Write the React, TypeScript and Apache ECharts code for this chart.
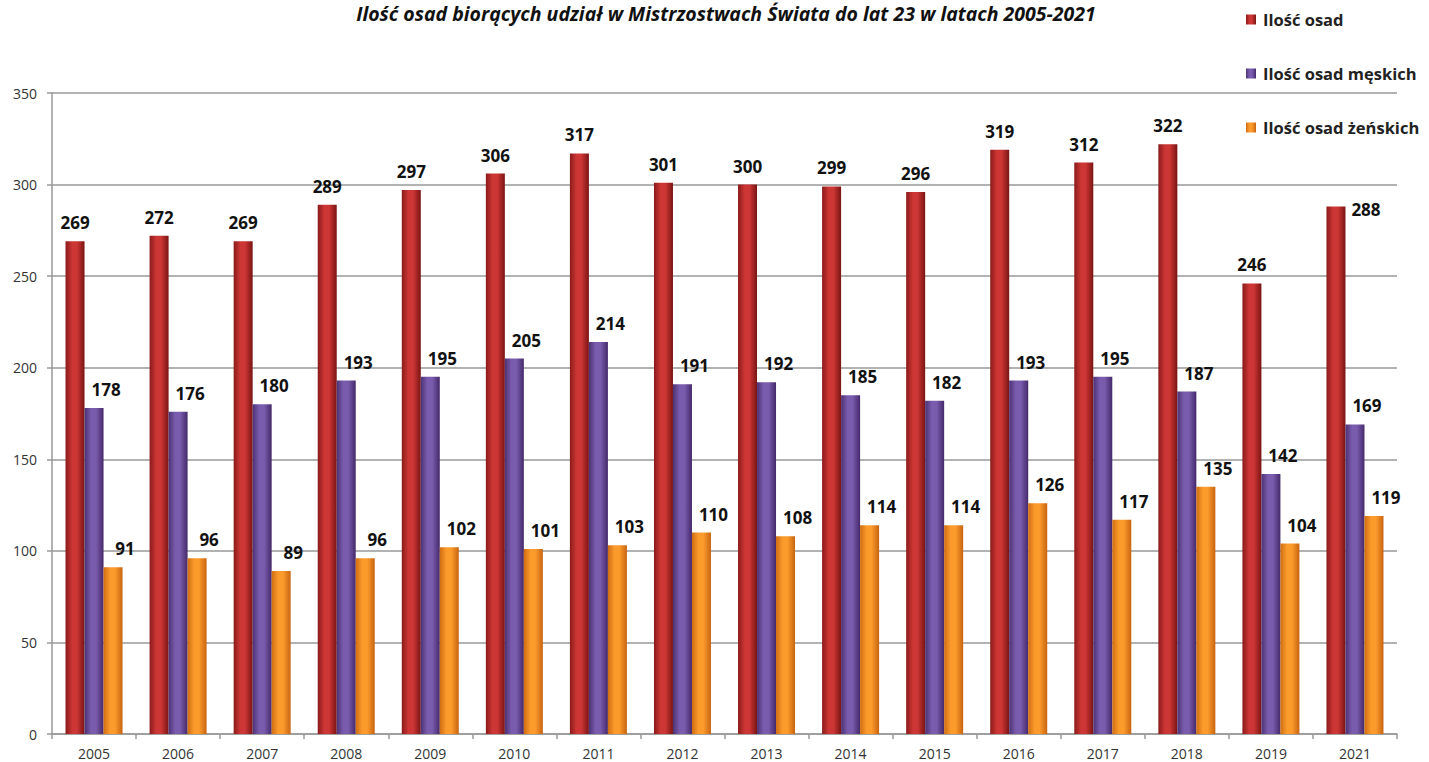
import React, { useEffect, useRef } from "react";
import * as echarts from "echarts";

const years = ["2005", "2006", "2007", "2008", "2009", "2010", "2011", "2012", "2013", "2014", "2015", "2016", "2017", "2018", "2019", "2021"];
const total = [269, 272, 269, 289, 297, 306, 317, 301, 300, 299, 296, 319, 312, 322, 246, 288];
const men = [178, 176, 180, 193, 195, 205, 214, 191, 192, 185, 182, 193, 195, 187, 142, 169];
const women = [91, 96, 89, 96, 102, 101, 103, 110, 108, 114, 114, 126, 117, 135, 104, 119];
const seriesNames = ["Ilość osad", "Ilość osad męskich", "Ilość osad żeńskich"];
const yTicks = { min: 0, max: 350, interval: 50 };

const FONT = "'Open Sans', 'Noto Sans', sans-serif";

function grad(edge: string, mid: string, edge2: string) {
  return new echarts.graphic.LinearGradient(0, 0, 1, 0, [
    { offset: 0, color: edge },
    { offset: 0.35, color: mid },
    { offset: 0.6, color: mid },
    { offset: 1, color: edge2 },
  ]);
}

export default function App() {
  const ref = useRef<HTMLDivElement>(null);
  useEffect(() => {
    if (!ref.current) return;
    const chart = echarts.init(ref.current, undefined, { renderer: "svg" });
    const labelStyle = {
      show: true,
      position: "top" as const,
      distance: 10,
      fontFamily: FONT,
      fontWeight: "bold" as const,
      fontSize: 17,
      color: "#111",
    };
    const totalData = total.map((v, i) =>
      i === total.length - 1
        ? { value: v, label: { offset: [30, 21] } }
        : v
    );
    chart.setOption({
      animation: false,
      backgroundColor: "#ffffff",
      title: {
        text: "Ilość osad biorących udział w Mistrzostwach Świata do lat 23 w latach 2005-2021",
        left: 726,
        textAlign: "center",
        top: 3,
        padding: 0,
        textStyle: {
          fontFamily: FONT,
          fontStyle: "italic",
          fontWeight: "bold",
          fontSize: 19.5,
          lineHeight: 20,
          color: "#111",
        },
      },
      legend: {
        orient: "vertical",
        left: 1246,
        top: 11,
        padding: 0,
        itemGap: 37,
        itemWidth: 10,
        itemHeight: 10,
        icon: "rect",
        textStyle: { fontFamily: FONT, fontWeight: "bold", fontSize: 16.5, color: "#222", padding: [0, 0, 0, 2] },
        data: seriesNames,
      },
      grid: { left: 52, right: 32, top: 93, bottom: 28, containLabel: false },
      xAxis: {
        type: "category",
        data: years,
        boundaryGap: true,
        axisLine: { lineStyle: { color: "#999", width: 1.5 } },
        axisTick: { show: true, length: 5, inside: false, lineStyle: { color: "#999", width: 1.5 } },
        axisLabel: { fontFamily: FONT, fontSize: 14, lineHeight: 14, color: "#333", margin: 12 },
      },
      yAxis: {
        type: "value",
        min: yTicks.min,
        max: yTicks.max,
        interval: yTicks.interval,
        axisLine: { show: true, lineStyle: { color: "#999", width: 1.5 } },
        axisTick: { show: true, length: 5, lineStyle: { color: "#999", width: 1.5 } },
        axisLabel: { fontFamily: FONT, fontSize: 14, color: "#333", margin: 15 },
        splitLine: { lineStyle: { color: "#999", width: 1.5 } },
      },
      series: [
        {
          name: seriesNames[0],
          type: "bar",
          data: totalData,
          barWidth: 19,
          barGap: "0%",
          itemStyle: { color: grad("#8a1a1a", "#cc3634", "#7a1414") },
          label: { ...labelStyle },
        },
        {
          name: seriesNames[1],
          type: "bar",
          data: men,
          barWidth: 19,
          barGap: "0%",
          itemStyle: { color: grad("#4c3274", "#7a5cae", "#45296a") },
          label: { ...labelStyle, offset: [12, 0] },
        },
        {
          name: seriesNames[2],
          type: "bar",
          data: women,
          barWidth: 19,
          barGap: "0%",
          itemStyle: { color: grad("#d06d12", "#fb9b2c", "#c86410") },
          label: { ...labelStyle, offset: [12, 0] },
        },
      ],
    });
    return () => chart.dispose();
  }, []);
  return (
    <div
      ref={ref}
      style={{ position: "fixed", left: 0, top: 0, width: 1429, height: 762, background: "#fff" }}
    />
  );
}
